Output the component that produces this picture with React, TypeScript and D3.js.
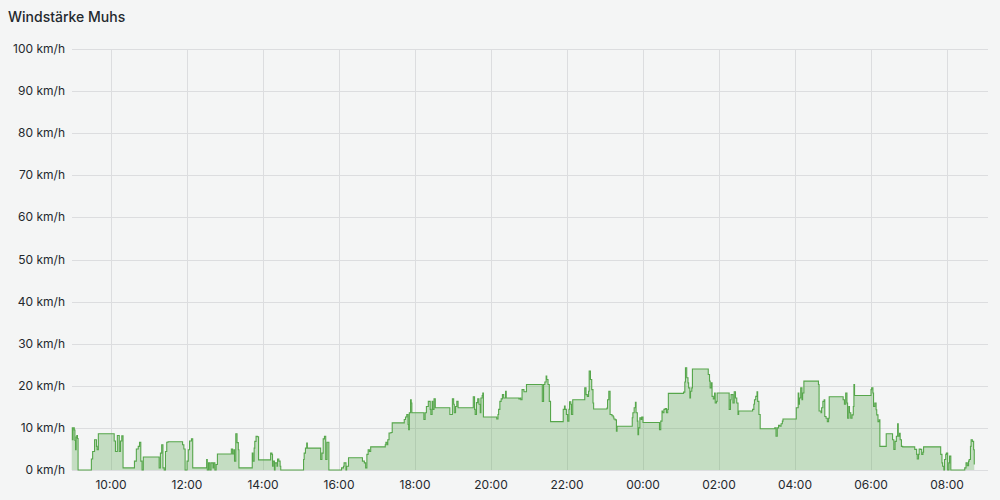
import * as d3 from "d3"

// chart title and axis ticks
const title = "Windstärke Muhs"
const speedTicks = [0, 10, 20, 30, 40, 50, 60, 70, 80, 90, 100]
const unit = "km/h"

// visible time range, minutes since 00:00 of the first day
const rangeStart = 538.4
const rangeEnd = 1984.7

// wind samples: [minutes since 00:00 of the first day, km/h]
const windSamples: [number, number][] = [
  [538, 10], [539, 7.2], [540, 10], [542, 9.5], [543, 7], [544, 4.8], [545, 7.8], [546, 8.2], [547, 7.5], [548, 0],
  [569, 2.6], [571, 4.4], [574, 7.2], [577, 5.6], [578, 4.8], [580, 8.6],
  [605, 6.9], [607, 4.4], [610, 8.2], [613, 4.4], [615, 6.9], [617, 8.1], [619, 0.5],
  [637, 2.1], [640, 5.0], [643, 5.6], [645, 6.6], [647, 2.1], [649, 0], [651, 3.1],
  [676, 0.5], [678, 4.0], [680, 6.0], [682, 0.5], [684, 0], [686, 4.4], [688, 6.6], [690, 6.7],
  [713, 6.0], [715, 5.0], [717, 0], [720, 2.1], [722, 4.8], [724, 6.9], [727, 7.4], [729, 0.5],
  [751, 2.5], [752, 0], [754, 1.7], [756, 0], [758, 1.7], [761, 0.5], [762, 1.7], [764, 0], [766, 1.3], [768, 3.8],
  [790, 5.0], [792, 3.8], [794, 4.8], [795, 2.1], [797, 8.6], [799, 6.5], [801, 4.8], [802, 0.5],
  [823, 4.0], [824, 2.1], [826, 5.2], [827, 6.8], [829, 8.0], [831, 7.9], [833, 2.4],
  [852, 4.0], [854, 3.7], [855, 0.9], [856, 2.1], [858, 0], [859, 1.7], [862, 0.9], [863, 2.6], [865, 2.1], [867, 0.9], [868, 0],
  [904, 2.5], [905, 4.0], [907, 5.2], [909, 6.4], [910, 5.2],
  [931, 2.5], [933, 4.0], [935, 7.4], [937, 8.0], [939, 2.5], [941, 6.6], [944, 0],
  [964, 0.5], [967, 0.9], [968, 1.7], [971, 0], [972, 0.9], [975, 2.9],
  [997, 2.1], [1000, 1.7], [1002, 0.5], [1004, 3.7], [1006, 4.8], [1008, 4.4], [1010, 5.5],
  [1033, 6.0], [1034, 6.6], [1036, 6.0], [1037, 7.2], [1039, 8.8], [1042, 8.9], [1044, 11.2],
  [1063, 12.0], [1065, 12.6], [1067, 13.2], [1069, 10.8], [1070, 9.6], [1071, 13.6], [1073, 16.7], [1074, 15.9], [1075, 13.6],
  [1094, 12.0], [1096, 13.6], [1098, 15.1], [1101, 16.3], [1104, 14.4], [1105, 13.2], [1107, 16.3], [1108, 14.4], [1110, 16.9], [1112, 14.8],
  [1135, 13.2], [1139, 16.9], [1141, 15.6], [1142, 13.6], [1144, 15.1], [1146, 16.3], [1148, 14.8],
  [1172, 17.4], [1174, 14.4], [1175, 13.2], [1177, 16.0], [1179, 16.9], [1181, 15.6], [1183, 13.6], [1184, 17.1], [1186, 17.7], [1187, 18.3], [1188, 12.6],
  [1209, 12.1], [1211, 13.2], [1212, 14.4], [1214, 16.3], [1216, 16.9], [1218, 17.9], [1220, 17.1], [1223, 18.7], [1224, 17.1],
  [1244, 16.9], [1246, 17.1], [1247, 16.7], [1249, 19.1], [1252, 18.6], [1256, 20.3],
  [1281, 16.3], [1283, 20.3], [1285, 20.9], [1287, 22.3], [1288, 21.5], [1290, 20.3], [1292, 16.3], [1294, 11.5],
  [1314, 14.4], [1316, 15.2], [1317, 14.4], [1319, 13.2], [1321, 11.6], [1323, 14.4], [1324, 16.2], [1326, 15.6], [1327, 13.2], [1329, 16.7],
  [1348, 19.5], [1350, 17.9], [1352, 17.5], [1354, 18.7], [1355, 23.5], [1357, 21.5], [1359, 19.1], [1361, 15.9], [1362, 14.5],
  [1383, 14.7], [1384, 16.7], [1386, 18.7], [1388, 13.2], [1391, 12.9], [1393, 12.6], [1394, 12.1], [1396, 11.9], [1398, 9.2], [1399, 10.4],
  [1423, 12.4], [1424, 13.6], [1426, 14.8], [1428, 16.1], [1429, 13.6], [1431, 11.6], [1432, 8.4], [1433, 10.0], [1435, 12.4], [1437, 12.0], [1438, 12.6], [1440, 11.3],
  [1466, 9.6], [1468, 11.6], [1470, 14.0], [1471, 13.6], [1473, 14.4], [1475, 14.6], [1477, 13.6], [1479, 14.4], [1480, 18.2],
  [1504, 18.5], [1506, 20.9], [1507, 24.3], [1509, 21.9], [1511, 20.7], [1512, 19.5], [1514, 17.1], [1515, 18.7], [1517, 19.5], [1518, 24.0],
  [1543, 22.7], [1545, 21.1], [1546, 19.5], [1548, 20.7], [1549, 17.5], [1551, 16.9], [1553, 18.3], [1554, 15.9], [1556, 16.3], [1557, 18.3],
  [1576, 14.4], [1578, 16.7], [1579, 17.9], [1582, 15.9], [1584, 18.6], [1586, 17.1], [1588, 15.9], [1590, 13.2], [1591, 14.0],
  [1613, 14.4], [1615, 15.6], [1616, 16.7], [1618, 17.5], [1620, 18.6], [1621, 16.3], [1623, 13.2], [1625, 9.8],
  [1648, 10.0], [1650, 8.0], [1652, 10.0], [1654, 10.6], [1656, 10.4], [1658, 11.0], [1660, 11.6], [1661, 12.1],
  [1682, 14.8], [1685, 18.3], [1686, 15.6], [1687, 17.1], [1689, 19.5], [1691, 16.7], [1692, 18.3], [1694, 21.1],
  [1717, 20.3], [1718, 14.0], [1721, 13.6], [1722, 14.8], [1724, 16.3], [1726, 16.7], [1727, 12.7], [1729, 12.3], [1731, 11.5], [1733, 12.3], [1734, 17.4],
  [1756, 16.7], [1758, 15.6], [1760, 18.3], [1762, 15.9], [1763, 12.3], [1765, 15.1], [1766, 13.6], [1768, 12.3], [1770, 13.1], [1772, 15.1], [1773, 20.3], [1774, 17.7],
  [1800, 19.1], [1801, 19.5], [1803, 18.3], [1804, 15.1], [1806, 15.9], [1808, 14.3], [1809, 13.1], [1811, 11.5], [1813, 11.9], [1814, 5.6],
  [1824, 8.6], [1834, 7.2], [1836, 4.9], [1838, 6.8], [1840, 8.0], [1842, 11.0], [1843, 8.0], [1845, 8.7], [1846, 7.2], [1848, 5.6], [1850, 5.5],
  [1869, 4.9], [1872, 3.7], [1873, 2.6], [1875, 3.7], [1876, 5.0], [1878, 4.9], [1880, 3.7], [1882, 4.2], [1883, 5.5],
  [1910, 3.7], [1912, 1.7], [1913, 0.9], [1915, 0], [1916, 2.5], [1918, 3.7], [1919, 4.0], [1921, 0], [1923, 1.7], [1924, 3.3], [1926, 0],
  [1948, 0.5], [1950, 1.7], [1952, 1.0], [1954, 2.1], [1955, 2.5], [1957, 5.6], [1958, 7.2], [1960, 6.8], [1962, 4.8], [1963, 1.3],
]

const W = 1000
const H = 500
const margin = { top: 49, right: 12, bottom: 30, left: 72 }
const lineColor = "#56a64b"
const textColor = "#24292e"
const gridColor = "#dcdddf"
const font = "Inter, 'Noto Sans', sans-serif"

const day0 = new Date(2024, 0, 15, 0, 0, 0)
const toDate = (m: number) => new Date(day0.getTime() + m * 60000)

export default function App() {
  const x = d3.scaleTime()
    .domain([toDate(rangeStart), toDate(rangeEnd)])
    .range([margin.left, W - margin.right])

  const y = d3.scaleLinear()
    .domain([0, 100])
    .range([H - margin.bottom, margin.top])

  const timeTicks = x.ticks(d3.timeHour.every(2)!)
  const fmt = d3.timeFormat("%H:%M")

  const area = d3.area<[number, number]>()
    .x(d => x(toDate(d[0])))
    .y0(y(0))
    .y1(d => y(d[1]))
    .curve(d3.curveStepAfter)

  const line = d3.line<[number, number]>()
    .x(d => x(toDate(d[0])))
    .y(d => y(d[1]))
    .curve(d3.curveStepAfter)

  const [x0, x1] = x.range()
  const [yb, yt] = y.range()

  return (
    <svg
      width={W}
      height={H}
      style={{ position: "absolute", left: 0, top: 0, background: "#f4f5f5", fontFamily: font }}
    >
      <rect width={W} height={H} fill="#f4f5f5" />
      <text x={8} y={22} fontSize={14} fontWeight={500} fill={textColor}>{title}</text>

      {/* grid */}
      <g shapeRendering="crispEdges">
        {speedTicks.map(t => (
          <line key={"h" + t} x1={x0} x2={x1} y1={Math.round(y(t)) + 0.5} y2={Math.round(y(t)) + 0.5} stroke={gridColor} strokeWidth={1} />
        ))}
        {timeTicks.map(t => (
          <line key={"v" + t.getTime()} x1={Math.round(x(t)) + 0.5} x2={Math.round(x(t)) + 0.5} y1={yt} y2={yb} stroke={gridColor} strokeWidth={1} />
        ))}
      </g>

      {/* series */}
      <path d={area(windSamples) ?? ""} fill={lineColor} fillOpacity={0.3} />
      <path d={line(windSamples) ?? ""} fill="none" stroke={lineColor} strokeWidth={1.1} />

      {/* y labels */}
      <g fontSize={12} fill={textColor} textAnchor="end">
        {speedTicks.map(t => (
          <text key={"yl" + t} x={65} y={y(t) + 4}>{`${t} ${unit}`}</text>
        ))}
      </g>

      {/* x labels */}
      <g fontSize={12} fill={textColor} textAnchor="middle">
        {timeTicks.map(t => (
          <text key={"xl" + t.getTime()} x={x(t)} y={489}>{fmt(t)}</text>
        ))}
      </g>
    </svg>
  )
}
